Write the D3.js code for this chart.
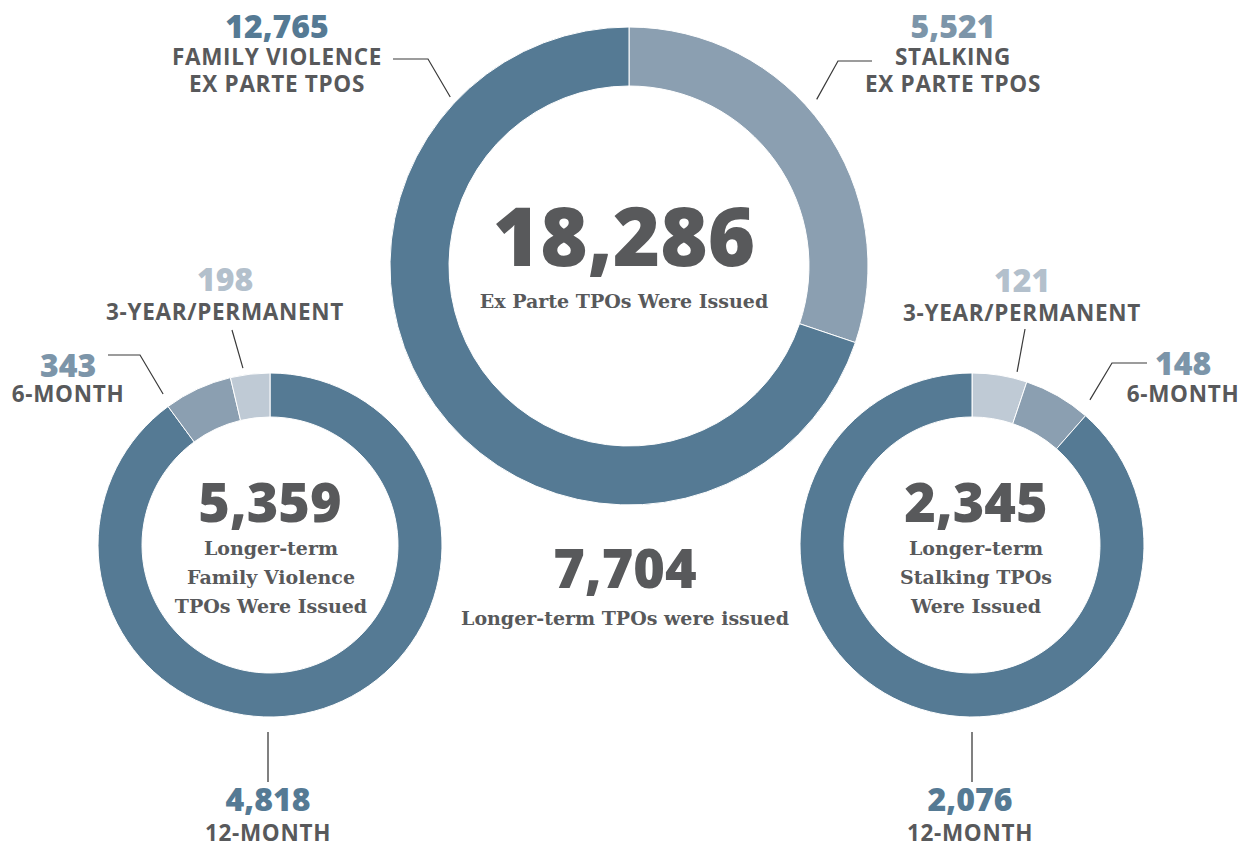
<!DOCTYPE html>
<html>
<head>
  <meta charset="utf-8">
  <script src="https://d3js.org/d3.v7.min.js"></script>
  <style>
    body { margin: 0; background: #fff; }
    svg { display: block; }
    .num { font-family: "Open Sans", sans-serif; font-weight: 800; text-anchor: middle; }
    .cap { font-family: "Open Sans", sans-serif; font-weight: 700; font-size: 22.5px; letter-spacing: 0.7px; fill: #58595b; text-anchor: middle; }
    .serif { font-family: "DejaVu Serif", serif; font-weight: bold; fill: #58595b; text-anchor: middle; }
    .leader { fill: none; stroke: #3a3a3a; stroke-width: 1.2; }
  </style>
</head>
<body>
<script>
  // ex parte TPOs (big donut), clockwise from 12 o'clock
  var exParteLabels = ["STALKING", "FAMILY VIOLENCE"];
  var exParteValues = [5521, 12765];

  // longer-term family violence TPOs (left donut)
  var fvLabels = ["12-MONTH", "6-MONTH", "3-YEAR/PERMANENT"];
  var fvValues = [4818, 343, 198];

  // longer-term stalking TPOs (right donut)
  var stLabels = ["3-YEAR/PERMANENT", "6-MONTH", "12-MONTH"];
  var stValues = [121, 148, 2076];

  var colorFor = {
    "FAMILY VIOLENCE": "#557a94",
    "STALKING": "#8b9fb1",
    "12-MONTH": "#557a94",
    "6-MONTH": "#8b9fb1",
    "3-YEAR/PERMANENT": "#bfcad5"
  };
  var numColor = {
    "FAMILY VIOLENCE": "#557a94",
    "STALKING": "#7c95a9",
    "12-MONTH": "#557a94",
    "6-MONTH": "#7c95a9",
    "3-YEAR/PERMANENT": "#b3c0cc"
  };

  var fmt = d3.format(",");
  var width = 1247, height = 844;

  var svg = d3.select("body").append("svg")
    .attr("width", width)
    .attr("height", height);

  var pie = d3.pie().sort(null);

  function donut(labels, values, cx, cy, outer, inner) {
    var g = svg.append("g").attr("transform", "translate(" + cx + "," + cy + ")");
    var arc = d3.arc().innerRadius(inner).outerRadius(outer);
    g.selectAll("path")
      .data(pie(values))
      .enter()
      .append("path")
        .attr("d", arc)
        .style("fill", function (d, i) { return colorFor[labels[i]]; })
        .style("stroke", "#fff")
        .style("stroke-width", 1);
    return g;
  }

  // point on a ring at an angle (degrees, clockwise from top)
  function polar(cx, cy, deg, r) {
    var a = deg * Math.PI / 180;
    return [cx + Math.sin(a) * r, cy - Math.cos(a) * r];
  }

  function leader(pts) {
    svg.append("path").attr("class", "leader").attr("d", d3.line()(pts));
  }

  function callout(value, lines, key, x, y, gap) {
    gap = gap || 27;
    svg.append("text").attr("class", "num")
      .attr("x", x).attr("y", y)
      .style("font-size", "32px")
      .style("fill", numColor[key])
      .text(fmt(value));
    lines.forEach(function (t, i) {
      svg.append("text").attr("class", "cap")
        .attr("x", x).attr("y", y + gap + i * 27)
        .text(t);
    });
  }

  // big donut
  var big = {cx: 629, cy: 266, R: 239, r: 180};
  donut(exParteLabels, exParteValues, big.cx, big.cy, big.R, big.r);
  var exTotal = d3.sum(exParteValues);

  svg.append("text").attr("class", "num")
    .attr("x", 624).attr("y", 266)
    .style("font-size", "81px").style("fill", "#58595b")
    .text(fmt(exTotal));
  svg.append("text").attr("class", "serif")
    .attr("x", 624).attr("y", 308)
    .style("font-size", "19px")
    .text("Ex Parte TPOs Were Issued");

  callout(exParteValues[1], ["FAMILY VIOLENCE", "EX PARTE TPOS"], "FAMILY VIOLENCE", 277, 38);
  leader([[393, 59], [428, 59], polar(big.cx, big.cy, 313.4, big.R + 7)]);

  callout(exParteValues[0], ["STALKING", "EX PARTE TPOS"], "STALKING", 953, 38);
  leader([[872, 61], [838, 61], polar(big.cx, big.cy, 48.4, big.R + 12)]);

  // left donut
  var left = {cx: 270, cy: 545, R: 172, r: 128};
  donut(fvLabels, fvValues, left.cx, left.cy, left.R, left.r);
  var fvTotal = d3.sum(fvValues);

  svg.append("text").attr("class", "num")
    .attr("x", 270).attr("y", 522)
    .style("font-size", "54px").style("fill", "#58595b")
    .text(fmt(fvTotal));
  ["Longer-term", "Family Violence", "TPOs Were Issued"].forEach(function (t, i) {
    svg.append("text").attr("class", "serif")
      .attr("x", 271).attr("y", 555 + i * 29)
      .style("font-size", "19px")
      .text(t);
  });

  callout(fvValues[2], ["3-YEAR/PERMANENT"], "3-YEAR/PERMANENT", 225, 291, 29);
  leader([[232, 330], polar(left.cx, left.cy, -8.7, left.R + 7)]);

  callout(fvValues[1], ["6-MONTH"], "6-MONTH", 68, 377, 25);
  leader([[108, 355], [140, 355], polar(left.cx, left.cy, -35.3, left.R + 13)]);

  callout(fvValues[0], ["12-MONTH"], "12-MONTH", 268, 811, 30);
  svg.append("line")
    .attr("x1", left.cx - 2).attr("x2", left.cx - 2)
    .attr("y1", left.cy + left.R + 15).attr("y2", left.cy + left.R + 65)
    .style("stroke", "#808080").style("stroke-width", 2);

  // right donut
  var right = {cx: 972, cy: 545, R: 172, r: 128};
  donut(stLabels, stValues, right.cx, right.cy, right.R, right.r);
  var stTotal = d3.sum(stValues);

  svg.append("text").attr("class", "num")
    .attr("x", 976).attr("y", 522)
    .style("font-size", "54px").style("fill", "#58595b")
    .text(fmt(stTotal));
  ["Longer-term", "Stalking TPOs", "Were Issued"].forEach(function (t, i) {
    svg.append("text").attr("class", "serif")
      .attr("x", 976).attr("y", 555 + i * 29)
      .style("font-size", "19px")
      .text(t);
  });

  callout(stValues[0], ["3-YEAR/PERMANENT"], "3-YEAR/PERMANENT", 1022, 292, 29);
  leader([[1025, 329], polar(right.cx, right.cy, 14.6, right.R + 7)]);

  callout(stValues[1], ["6-MONTH"], "6-MONTH", 1183, 375, 27);
  leader([[1147, 363], [1112, 363], polar(right.cx, right.cy, 39.1, right.R + 15)]);

  callout(stValues[2], ["12-MONTH"], "12-MONTH", 970, 811, 30);
  svg.append("line")
    .attr("x1", right.cx).attr("x2", right.cx)
    .attr("y1", right.cy + right.R + 15).attr("y2", right.cy + right.R + 65)
    .style("stroke", "#808080").style("stroke-width", 2);

  // overall longer-term total
  svg.append("text").attr("class", "num")
    .attr("x", 625).attr("y", 588)
    .style("font-size", "54px").style("fill", "#58595b")
    .text(fmt(fvTotal + stTotal));
  svg.append("text").attr("class", "serif")
    .attr("x", 625).attr("y", 625)
    .style("font-size", "19px")
    .text("Longer-term TPOs were issued");
</script>
</body>
</html>
